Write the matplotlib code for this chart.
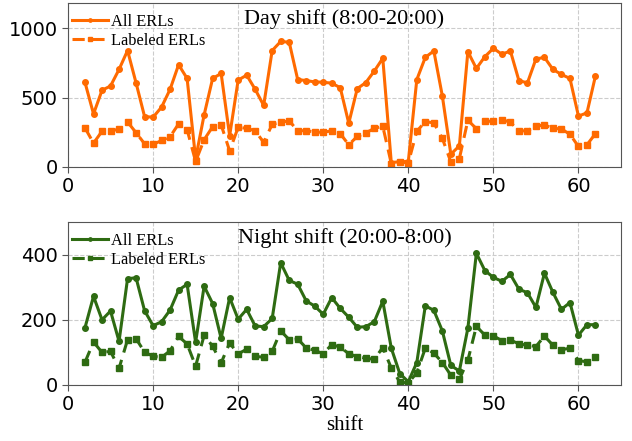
import matplotlib
matplotlib.use("Agg")
import matplotlib.pyplot as plt

shifts = list(range(2, 63))

day_all = [608, 382, 552, 583, 702, 838, 605, 363, 358, 431, 559, 736, 637, 60, 375, 637, 673, 225,
           625, 661, 559, 443, 838, 903, 898, 629, 622, 612, 610, 603, 571, 315, 564, 607, 690, 782,
           31, 39, 39, 629, 789, 835, 511, 92, 152, 830, 709, 794, 854, 811, 835, 622, 605, 777, 789,
           702, 666, 637, 366, 390, 656]
day_labeled = [281, 172, 257, 257, 274, 324, 247, 167, 162, 191, 218, 310, 269, 40, 196, 290, 303, 116,
               286, 278, 261, 177, 307, 322, 332, 261, 261, 252, 249, 261, 240, 160, 220, 245, 278, 293,
               25, 35, 30, 257, 327, 317, 206, 36, 60, 336, 276, 329, 329, 341, 322, 259, 261, 293, 303,
               278, 274, 235, 148, 160, 240]

night_all = [176, 272, 200, 227, 134, 326, 329, 228, 182, 194, 230, 291, 309, 131, 303, 250, 143, 268,
             202, 232, 181, 179, 204, 375, 321, 309, 258, 242, 217, 268, 235, 208, 177, 179, 194, 257,
             113, 35, 10, 69, 243, 229, 166, 60, 43, 174, 404, 351, 330, 318, 339, 294, 283, 238, 343,
             284, 232, 253, 153, 185, 185]
night_labeled = [70, 132, 100, 103, 51, 139, 142, 101, 88, 85, 105, 149, 126, 58, 152, 119, 68, 129,
                 95, 110, 88, 85, 103, 166, 139, 141, 114, 106, 96, 124, 116, 96, 87, 82, 79, 115,
                 52, 9, 6, 38, 113, 98, 69, 30, 17, 76, 180, 153, 151, 136, 138, 126, 122, 118, 150,
                 122, 108, 113, 75, 71, 85]

day_color = "#ff6a00"
night_color = "#2e6b12"
serif = ["Liberation Serif", "DejaVu Serif"]

fig = plt.figure(figsize=(6.32, 4.41), dpi=100)
ax1 = fig.add_axes([68/632, 1-167/441, 553/632, 164/441])
ax2 = fig.add_axes([68/632, 1-385/441, 553/632, 163/441])

def draw(ax, all_v, lab_v, color, title, ylim, yticks):
    ax.plot(shifts, all_v, '-', color=color, lw=2.2, marker='o', ms=4, label='All ERLs')
    ax.plot(shifts, lab_v, '--', color=color, lw=2.2, marker='s', ms=5, label='Labeled ERLs',
            dashes=(4, 2.5))
    ax.set_xlim(0, 65)
    ax.set_ylim(*ylim)
    ax.set_yticks(yticks)
    ax.set_xticks([0, 10, 20, 30, 40, 50, 60])
    ax.grid(True, ls='--', color='#cccccc', lw=0.8)
    ax.set_axisbelow(True)
    for s in ax.spines.values():
        s.set_color('#555555')
    ax.tick_params(labelsize=14, color='#555555', length=4)
    ax.text(0.5, 0.965, title, transform=ax.transAxes, ha='center', va='top',
            fontsize=16, family=serif)
    ax.legend(loc='upper left', bbox_to_anchor=(0.0, 0.96),
              prop={'family': serif, 'size': 11.8}, frameon=False,
              handlelength=2.2, borderaxespad=0.0, borderpad=0.25, labelspacing=0.2,
              markerscale=0.6, handletextpad=0.2)

draw(ax1, day_all, day_labeled, day_color, 'Day shift (8:00-20:00)', (0, 1180), [0, 500, 1000])
draw(ax2, night_all, night_labeled, night_color, 'Night shift (20:00-8:00)', (0, 500), [0, 200, 400])
ax2.set_xlabel('shift', family=serif, fontsize=15, labelpad=1)

fig.savefig('out.png', dpi=100)
